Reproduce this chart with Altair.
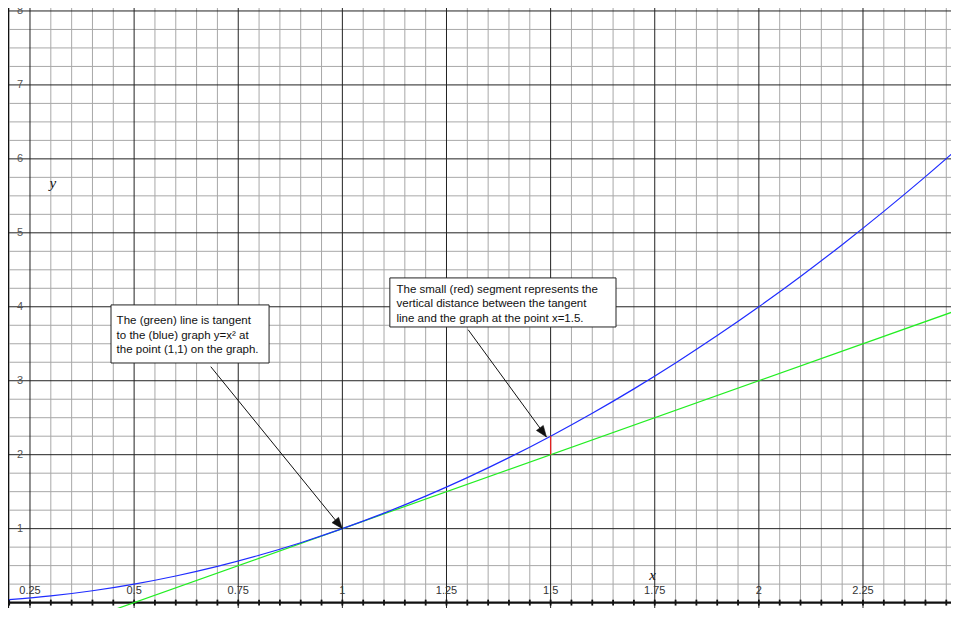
import altair as alt
import pandas as pd
import numpy as np

# ---------------- data ----------------
# blue curve y = x^2
blue_x = [0.2, 0.3, 0.4, 0.5, 0.6, 0.7, 0.8, 0.9, 1.0, 1.1, 1.2, 1.3, 1.4, 1.5,
          1.6, 1.7, 1.8, 1.9, 2.0, 2.1, 2.2, 2.3, 2.4, 2.5]
blue_y = [0.04, 0.09, 0.16, 0.25, 0.36, 0.49, 0.64, 0.81, 1.0, 1.21, 1.44, 1.69,
          1.96, 2.25, 2.56, 2.89, 3.24, 3.61, 4.0, 4.41, 4.84, 5.29, 5.76, 6.25]
# green tangent line
green_x = [0.35, 2.5]
green_y = [-0.3, 4.0]
# red segment at x = 1.5
red_x = [1.5, 1.5]
red_y = [2.0, 2.25]

x_tick_vals = [0.25, 0.5, 0.75, 1.0, 1.25, 1.5, 1.75, 2.0, 2.25]
x_tick_labels = ["0.25", "0.5", "0.75", "1", "1.25", "1.5", "1.75", "2", "2.25"]
y_tick_vals = [1, 2, 3, 4, 5, 6, 7, 8]
y_tick_labels = ["1", "2", "3", "4", "5", "6", "7", "8"]

note1_lines = ["The (green) line is tangent", "to the (blue) graph y=x² at",
               "the point (1,1) on the graph."]
note2_lines = ["The small (red) segment represents the",
               "vertical distance between the tangent",
               "line and the graph at the point x=1.5."]

# ---------------- layout ----------------
W, H = 943, 600
XMIN, XMAX = 0.1972, 2.4613
YMIN, YMAX = -0.073, 8.04

xs = alt.Scale(domain=[XMIN, XMAX], nice=False, zero=False)
ys = alt.Scale(domain=[YMIN, YMAX], nice=False, zero=False)


def X(f="x"):
    return alt.X(f, type="quantitative", scale=xs, axis=None)


def Y(f="y"):
    return alt.Y(f, type="quantitative", scale=ys, axis=None)


# grid positions
fine_x = np.round(np.arange(0.2, 2.5001, 0.05), 4)
minor_vx = [v for v in fine_x if abs(v / 0.25 - round(v / 0.25)) > 1e-6]
major_vx = [round(v, 2) for v in np.arange(0.25, 2.5001, 0.25)]
quarter_y = np.round(np.arange(0.25, 8.01, 0.25), 4)
minor_hy = [v for v in quarter_y if abs(v - round(v)) > 1e-6]

minor_v = alt.Chart(pd.DataFrame({"x": minor_vx, "y": 0.0, "y2": YMAX})).mark_rule(
    color="#a8a8a8", strokeWidth=1).encode(x=X(), y=Y(), y2="y2")
minor_h = alt.Chart(pd.DataFrame({"y": minor_hy})).mark_rule(
    color="#a8a8a8", strokeWidth=1).encode(y=Y(), x=alt.value(0), x2=alt.value(W))
major_v = alt.Chart(pd.DataFrame({"x": major_vx})).mark_rule(
    color="#222222", strokeWidth=1).encode(x=X(), y=alt.value(0), y2=alt.value(H))
major_h = alt.Chart(pd.DataFrame({"y": y_tick_vals})).mark_rule(
    color="#222222", strokeWidth=1).encode(y=Y(), x=alt.value(0), x2=alt.value(W))
left_border = alt.Chart(pd.DataFrame({"a": [0]})).mark_rule(
    color="#111111", strokeWidth=1.2).encode(x=alt.value(0.5), y=alt.value(0), y2=alt.value(H))

x_axis = alt.Chart(pd.DataFrame({"y": [0.0]})).mark_rule(
    color="#111111", strokeWidth=2.4).encode(y=Y(), x=alt.value(0), x2=alt.value(W))
minor_ticks = alt.Chart(pd.DataFrame({"x": list(fine_x), "y": -0.04, "y2": 0.04})).mark_rule(
    color="#111111", strokeWidth=1.8).encode(x=X(), y=Y(), y2="y2")

x_labels = alt.Chart(pd.DataFrame({"x": x_tick_vals, "t": x_tick_labels, "y": 0.0})).mark_text(
    font="Liberation Sans", fontSize=11, color="#333333", dy=-11.5, baseline="middle",
    align="center").encode(x=X(), y=Y(), text="t")
y_labels = alt.Chart(pd.DataFrame({"y": y_tick_vals, "t": y_tick_labels})).mark_text(
    font="Liberation Sans", fontSize=11, color="#555555", baseline="middle",
    align="center").encode(y=Y(), x=alt.value(12), text="t")

axis_names = alt.Chart(pd.DataFrame({"x": [1.745, 0.305], "y": [0.37, 5.675], "t": ["x", "y"]})).mark_text(
    font="Liberation Serif", fontStyle="italic", fontSize=15, color="#111111",
    baseline="middle", align="center").encode(x=X(), y=Y(), text="t")

blue = alt.Chart(pd.DataFrame({"x": blue_x, "y": blue_y})).mark_line(
    color="#1f2cff", strokeWidth=1.2, interpolate="monotone", clip=True).encode(x=X(), y=Y())
green = alt.Chart(pd.DataFrame({"x": green_x, "y": green_y})).mark_line(
    color="#22ee22", strokeWidth=1.2, clip=True).encode(x=X(), y=Y())
red = alt.Chart(pd.DataFrame({"x": red_x, "y": red_y})).mark_line(
    color="#e02020", strokeWidth=1.3).encode(x=X(), y=Y())

# annotation boxes (data coordinates)
boxes = pd.DataFrame({
    "x": [0.4445, 1.114], "x2": [0.824, 1.657],
    "y": [3.24, 3.727], "y2": [4.025, 4.39],
})
box_marks = alt.Chart(boxes).mark_rect(
    fill="white", stroke="#222222", strokeWidth=1).encode(x=X(), x2="x2", y=Y(), y2="y2")

notes = pd.DataFrame({
    "x": [0.458] * 3 + [1.130] * 3,
    "y": [3.808, 3.61, 3.415, 4.228, 4.034, 3.836],
    "t": note1_lines + note2_lines,
})
note_text = alt.Chart(notes).mark_text(
    font="Liberation Sans", fontSize=11.5, color="#111111", align="left",
    baseline="middle").encode(x=X(), y=Y(), text="t")

arrows = pd.DataFrame({
    "x": [0.684, 1.302], "y": [3.19, 3.69],
    "x2": [1.0, 1.49], "y2": [1.0, 2.24],
    "ang": [140.8, 143.8],
})
arrow_lines = alt.Chart(arrows).mark_rule(color="#111111", strokeWidth=1).encode(
    x=X(), y=Y(), x2="x2", y2="y2")
arrow_heads = alt.Chart(arrows).mark_point(
    shape="M0,0 L-0.38,1 L0.38,1 Z", size=500, filled=True, fill="#111111",
    stroke="#111111", strokeWidth=0.5, opacity=1).encode(
    x=alt.X("x2", type="quantitative", scale=xs, axis=None),
    y=alt.Y("y2", type="quantitative", scale=ys, axis=None),
    angle=alt.Angle("ang", type="quantitative", scale=None))

chart = alt.layer(
    minor_v, minor_h, major_v, major_h, left_border, x_axis, minor_ticks,
    x_labels, y_labels, axis_names, green, blue, red,
    arrow_lines, arrow_heads, box_marks, note_text,
).properties(
    width=W, height=H, padding=0, autosize=alt.AutoSizeParams(type="none"),
    background="white",
).configure_view(stroke=None)

chart.save("out.html", embed_options={"renderer": "svg", "actions": False})
